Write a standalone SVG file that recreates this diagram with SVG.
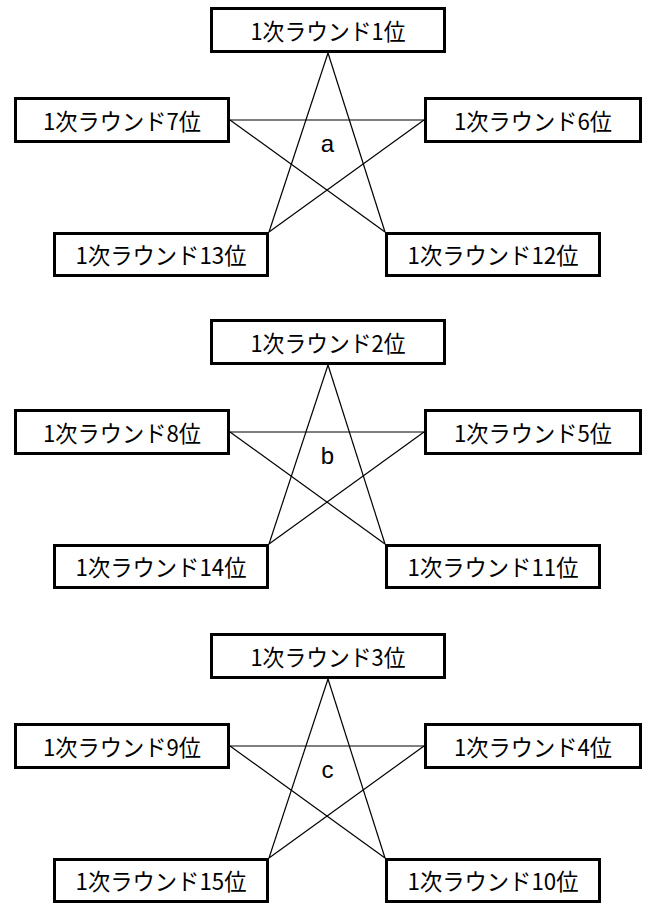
<svg xmlns="http://www.w3.org/2000/svg" width="649" height="907" viewBox="0 0 649 907">
<style>
.box rect{fill:#fff;stroke:#000;stroke-width:3}
.box text{font-family:"Noto Sans CJK JP","Liberation Sans",sans-serif;font-size:23px;fill:#000;text-anchor:middle;lengthAdjust:spacingAndGlyphs}
.lbl{font-family:"Liberation Sans",Arial,sans-serif;font-size:24px;fill:#000;text-anchor:middle}
.conn{stroke:#000;stroke-width:1.2;fill:none}
</style>
<g id="connectors" class="conn">
<line x1="328" y1="53" x2="269" y2="232"/>
<line x1="328" y1="53" x2="385" y2="232"/>
<line x1="230" y1="120" x2="424" y2="120"/>
<line x1="230" y1="120" x2="385" y2="232"/>
<line x1="424" y1="120" x2="269" y2="232"/>
<line x1="328" y1="365" x2="269" y2="544"/>
<line x1="328" y1="365" x2="385" y2="544"/>
<line x1="230" y1="432" x2="424" y2="432"/>
<line x1="230" y1="432" x2="385" y2="544"/>
<line x1="424" y1="432" x2="269" y2="544"/>
<line x1="328" y1="679" x2="269" y2="858"/>
<line x1="328" y1="679" x2="385" y2="858"/>
<line x1="230" y1="746" x2="424" y2="746"/>
<line x1="230" y1="746" x2="385" y2="858"/>
<line x1="424" y1="746" x2="269" y2="858"/>
</g>
<g id="groupA">
<g id="a1" class="box"><rect x="211.5" y="8.5" width="233" height="43"/><text x="328" y="40" textLength="155" lengthAdjust="spacingAndGlyphs">1次ラウンド1位</text></g>
<g id="a7" class="box"><rect x="15.5" y="98.5" width="213" height="43"/><text x="122" y="130" textLength="158" lengthAdjust="spacingAndGlyphs">1次ラウンド7位</text></g>
<g id="a6" class="box"><rect x="425.5" y="98.5" width="215" height="43"/><text x="533" y="130" textLength="158" lengthAdjust="spacingAndGlyphs">1次ラウンド6位</text></g>
<g id="a13" class="box"><rect x="54.5" y="233.5" width="213" height="42"/><text x="161" y="264" textLength="171" lengthAdjust="spacingAndGlyphs">1次ラウンド13位</text></g>
<g id="a12" class="box"><rect x="386.5" y="233.5" width="213" height="42"/><text x="493" y="264" textLength="171" lengthAdjust="spacingAndGlyphs">1次ラウンド12位</text></g>
<text id="la" class="lbl" x="327.5" y="152">a</text>
</g>
<g id="groupB" transform="translate(0,312)">
<g id="b2" class="box"><rect x="211.5" y="8.5" width="233" height="43"/><text x="328" y="40" textLength="155" lengthAdjust="spacingAndGlyphs">1次ラウンド2位</text></g>
<g id="b8" class="box"><rect x="15.5" y="98.5" width="213" height="43"/><text x="122" y="130" textLength="158" lengthAdjust="spacingAndGlyphs">1次ラウンド8位</text></g>
<g id="b5" class="box"><rect x="425.5" y="98.5" width="215" height="43"/><text x="533" y="130" textLength="158" lengthAdjust="spacingAndGlyphs">1次ラウンド5位</text></g>
<g id="b14" class="box"><rect x="54.5" y="233.5" width="213" height="42"/><text x="161" y="264" textLength="171" lengthAdjust="spacingAndGlyphs">1次ラウンド14位</text></g>
<g id="b11" class="box"><rect x="386.5" y="233.5" width="213" height="42"/><text x="493" y="264" textLength="171" lengthAdjust="spacingAndGlyphs">1次ラウンド11位</text></g>
<text id="lb" class="lbl" x="327.5" y="152">b</text>
</g>
<g id="groupC" transform="translate(0,626)">
<g id="c3" class="box"><rect x="211.5" y="8.5" width="233" height="43"/><text x="328" y="40" textLength="155" lengthAdjust="spacingAndGlyphs">1次ラウンド3位</text></g>
<g id="c9" class="box"><rect x="15.5" y="98.5" width="213" height="43"/><text x="122" y="130" textLength="158" lengthAdjust="spacingAndGlyphs">1次ラウンド9位</text></g>
<g id="c4" class="box"><rect x="425.5" y="98.5" width="215" height="43"/><text x="533" y="130" textLength="158" lengthAdjust="spacingAndGlyphs">1次ラウンド4位</text></g>
<g id="c15" class="box"><rect x="54.5" y="233.5" width="213" height="42"/><text x="161" y="264" textLength="171" lengthAdjust="spacingAndGlyphs">1次ラウンド15位</text></g>
<g id="c10" class="box"><rect x="386.5" y="233.5" width="213" height="42"/><text x="493" y="264" textLength="171" lengthAdjust="spacingAndGlyphs">1次ラウンド10位</text></g>
<text id="lc" class="lbl" x="327.5" y="152">c</text>
</g>
</svg>
